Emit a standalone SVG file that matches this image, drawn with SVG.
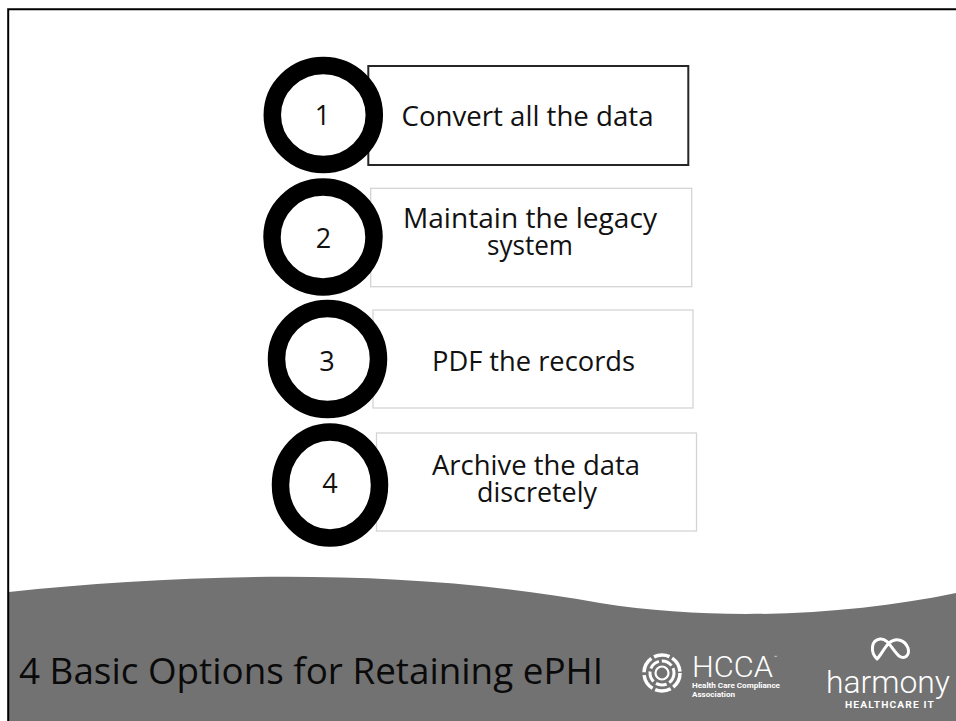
<svg xmlns="http://www.w3.org/2000/svg" width="956" height="721" viewBox="0 0 956 721">
<style>
  .ring { fill: none; stroke: #000; stroke-width: 17.5; }
  .box1 { fill: #fff; stroke: #262626; stroke-width: 2; }
  .box { fill: #fff; stroke: #d4d4d4; stroke-width: 1.3; }
  .lbl { font-family: "Open Sans", "Noto Sans", "Liberation Sans", sans-serif; font-size: 27px; fill: #111; text-anchor: middle; }
  .title { font-family: "Open Sans", "Noto Sans", "Liberation Sans", sans-serif; font-size: 36px; fill: #0a0a0a; }
  .logo { font-family: Roboto, "Liberation Sans", sans-serif; fill: #fff; }
</style>
<rect x="0" y="0" width="956" height="721" fill="#fff"/>
<path id="footer-wave" d="M9,592 C180,574 400,566 600,603 C720,622 850,615 956,593 L956,721 L9,721 Z" fill="#727272"/>
<g id="connectors"/>
<g id="node-1">
  <rect class="box1" x="368.3" y="66" width="320" height="99"/>
  <ellipse class="ring" cx="323.3" cy="115" rx="51" ry="49.5"/>
  <text class="lbl" x="322.5" y="125">1</text>
  <text class="lbl" x="527.5" y="126" textLength="252" lengthAdjust="spacingAndGlyphs">Convert all the data</text>
</g>
<g id="node-2">
  <rect class="box" x="370.7" y="188.3" width="321" height="98.4"/>
  <ellipse class="ring" cx="323" cy="237" rx="51" ry="50"/>
  <text class="lbl" x="323.5" y="248">2</text>
  <text class="lbl"><tspan x="530" y="228" textLength="254" lengthAdjust="spacingAndGlyphs">Maintain the legacy</tspan><tspan x="530" y="255" textLength="86" lengthAdjust="spacingAndGlyphs">system</tspan></text>
</g>
<g id="node-3">
  <rect class="box" x="373" y="310" width="320" height="98"/>
  <ellipse class="ring" cx="327.5" cy="359" rx="51" ry="50.5"/>
  <text class="lbl" x="327" y="371">3</text>
  <text class="lbl" x="533.5" y="371" textLength="203" lengthAdjust="spacingAndGlyphs">PDF the records</text>
</g>
<g id="node-4">
  <rect class="box" x="376.5" y="433" width="320" height="98"/>
  <ellipse class="ring" cx="330" cy="485" rx="49.5" ry="53"/>
  <text class="lbl" x="330" y="493">4</text>
  <text class="lbl"><tspan x="536" y="475" textLength="208" lengthAdjust="spacingAndGlyphs">Archive the data</tspan><tspan x="537" y="502" textLength="120" lengthAdjust="spacingAndGlyphs">discretely</tspan></text>
</g>
<g id="title">
  <text class="title" x="19" y="684" textLength="584" lengthAdjust="spacingAndGlyphs">4 Basic Options for Retaining ePHI</text>
</g>
<g id="logo-hcca">
  <circle cx="662" cy="673" r="18" fill="none" stroke="#fff" stroke-width="3.5" stroke-dasharray="16 3"/>
  <circle cx="662" cy="673" r="12" fill="none" stroke="#fff" stroke-width="3" stroke-dasharray="11 3"/>
  <circle cx="662" cy="673" r="6.5" fill="none" stroke="#fff" stroke-width="2.2"/>
  <text class="logo"><tspan x="692" y="677" font-size="30" font-weight="300" textLength="81" lengthAdjust="spacingAndGlyphs">HCCA</tspan><tspan x="774" y="659" font-size="5">™</tspan><tspan x="692" y="688" font-size="7.5" font-weight="700" textLength="88" lengthAdjust="spacingAndGlyphs">Health Care Compliance</tspan><tspan x="692" y="697" font-size="7.5" font-weight="700" textLength="43" lengthAdjust="spacingAndGlyphs">Association</tspan></text>
</g>
<g id="logo-harmony">
  <path d="M877,659 C870,652 871,640 880,639 C888,638 892,650 899,656 C905,660 910,655 908,648 C905,640 896,637 889,643 C884,648 881,655 877,659 Z" fill="none" stroke="#fff" stroke-width="3" stroke-linejoin="round"/>
  <text class="logo"><tspan x="826" y="693" font-size="32" font-weight="300" textLength="124" lengthAdjust="spacingAndGlyphs">harmony</tspan><tspan x="845" y="708" font-size="9" font-weight="700" letter-spacing="1" textLength="90" lengthAdjust="spacingAndGlyphs">HEALTHCARE IT</tspan></text>
</g>
<path id="frame" d="M8.2,721 L8.2,9.3 L956,9.3" fill="none" stroke="#000" stroke-width="2"/>
</svg>
